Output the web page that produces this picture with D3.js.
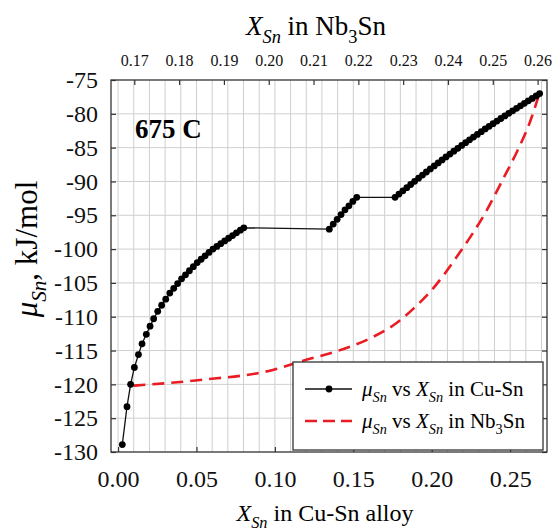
<!DOCTYPE html>
<html>
<head>
<meta charset="utf-8">
<script src="https://cdn.jsdelivr.net/npm/d3@7"></script>
<style>
  body { margin: 0; background: #fff; }
  svg text { font-family: "Liberation Serif", "Times New Roman", serif; }
</style>
</head>
<body>
<div id="wrapper"></div>
<script>
// Cu-Sn alloy: X_Sn (bottom axis) vs mu_Sn
const cuSnX = [0.0027, 0.0057, 0.0080, 0.0104, 0.0130, 0.0153, 0.0180, 0.0204, 0.0227, 0.0253,
    0.0278, 0.0304, 0.0330, 0.0355, 0.0380, 0.0405, 0.0430, 0.0455, 0.0480, 0.0505,
    0.0530, 0.0555, 0.0580, 0.0605, 0.0630, 0.0655, 0.0680, 0.0705, 0.0730, 0.0755,
    0.0780, 0.0802,
    0.1347, 0.1372, 0.1397, 0.1422, 0.1447, 0.1472, 0.1497, 0.1522,
    0.1766, 0.1791, 0.1816, 0.1841, 0.1866, 0.1891, 0.1916, 0.1941, 0.1966, 0.1991,
    0.2016, 0.2041, 0.2066, 0.2091, 0.2116, 0.2141, 0.2166, 0.2191, 0.2216, 0.2241,
    0.2266, 0.2291, 0.2316, 0.2341, 0.2366, 0.2391, 0.2416, 0.2441, 0.2466, 0.2491,
    0.2516, 0.2541, 0.2566, 0.2591, 0.2616, 0.2641, 0.2666, 0.2688];
const cuSnMu = [-128.9, -123.3, -120.0, -117.5, -115.6, -114.0, -112.6, -111.4, -110.3, -109.2,
    -108.3, -107.4, -106.5, -105.8, -105.1, -104.4, -103.8, -103.2, -102.6, -102.0,
    -101.5, -101.0, -100.5, -100.0, -99.6, -99.2, -98.8, -98.4, -98.0, -97.6,
    -97.2, -96.85,
    -97.05, -96.3, -95.6, -94.9, -94.2, -93.6, -92.95, -92.35,
    -92.35, -91.87, -91.39, -90.92, -90.45, -89.98, -89.52, -89.06, -88.60, -88.15,
    -87.70, -87.26, -86.82, -86.38, -85.95, -85.52, -85.10, -84.68, -84.26, -83.85,
    -83.44, -83.04, -82.64, -82.24, -81.85, -81.46, -81.07, -80.69, -80.31, -79.93,
    -79.56, -79.19, -78.82, -78.45, -78.08, -77.72, -77.36, -77.00];

// Nb3Sn: X_Sn (top axis) vs mu_Sn
const nb3SnX = [0.1698, 0.1847, 0.2007, 0.2077, 0.2152, 0.2226, 0.2286, 0.2323, 0.2367,
    0.2420, 0.2487, 0.2524, 0.2554, 0.2583, 0.2604];
const nb3SnMu = [-120.2, -119.35, -117.9, -116.5, -115.1, -113.2, -110.9, -108.8, -105.8,
    -101.1, -94.2, -89.5, -85.6, -81.2, -77.0];

const bottomTicks = [0, 0.05, 0.10, 0.15, 0.20, 0.25];
const topTicks = [0.17, 0.18, 0.19, 0.20, 0.21, 0.22, 0.23, 0.24, 0.25, 0.26];
const leftTicks = [-130, -125, -120, -115, -110, -105, -100, -95, -90, -85, -80, -75];
const gridX = d3.range(0, 28).map(i => i / 100);

const FONT = "Liberation Serif, Times New Roman, serif";

const dimension = {
    width: 556,
    height: 531,
    margin: { top: 80, left: 111, bottom: 79, right: 9 }
};
dimension.boundedWidth = dimension.width - dimension.margin.left - dimension.margin.right;
dimension.boundedHeight = dimension.height - dimension.margin.top - dimension.margin.bottom;

const svg = d3.select("#wrapper").append("svg")
    .attr("width", dimension.width)
    .attr("height", dimension.height)
    .attr("font-family", FONT);

const bounded = svg.append("g")
    .attr("transform", `translate(${dimension.margin.left},${dimension.margin.top})`);

const xScale = d3.scaleLinear().domain([-0.0045, 0.2735]).range([0, dimension.boundedWidth]);
const xTopScale = d3.scaleLinear().domain([0.1648, 0.2621]).range([0, dimension.boundedWidth]);
const yScale = d3.scaleLinear().domain([-130, -75]).range([dimension.boundedHeight, 0]);

// grid
const gridColor = "#cfcfcf";
bounded.append("g").selectAll("line").data(gridX).join("line")
    .attr("x1", d => xScale(d)).attr("x2", d => xScale(d))
    .attr("y1", 0).attr("y2", dimension.boundedHeight)
    .attr("stroke", gridColor).attr("stroke-width", 1);
bounded.append("g").selectAll("line").data(leftTicks.slice(1, -1)).join("line")
    .attr("x1", 0).attr("x2", dimension.boundedWidth)
    .attr("y1", d => yScale(d)).attr("y2", d => yScale(d))
    .attr("stroke", gridColor).attr("stroke-width", 1);

// curves
const cuSnData = cuSnX.map((x, i) => ({ x: x, y: cuSnMu[i] }));
const nb3SnData = nb3SnX.map((x, i) => ({ x: x, y: nb3SnMu[i] }));

const redLine = d3.line()
    .x(d => xTopScale(d.x))
    .y(d => yScale(d.y))
    .curve(d3.curveMonotoneX);
bounded.append("path")
    .attr("d", redLine(nb3SnData))
    .attr("fill", "none")
    .attr("stroke", "#ea1b22")
    .attr("stroke-width", 2.6)
    .attr("stroke-dasharray", "12,7");

const blackLine = d3.line()
    .x(d => xScale(d.x))
    .y(d => yScale(d.y));
bounded.append("path")
    .attr("d", blackLine(cuSnData))
    .attr("fill", "none")
    .attr("stroke", "#111")
    .attr("stroke-width", 1.3);
bounded.append("g").selectAll("circle").data(cuSnData).join("circle")
    .attr("cx", d => xScale(d.x))
    .attr("cy", d => yScale(d.y))
    .attr("r", 3.4)
    .attr("fill", "#000");

// axes
const axisColor = "#333";
const styleAxis = (g, size) => {
    g.attr("font-family", FONT).attr("font-size", size);
    g.select(".domain").remove();
    g.selectAll(".tick line").attr("stroke", axisColor).attr("stroke-width", 1.2);
    g.selectAll(".tick text").attr("fill", "#111");
};

bounded.append("g")
    .call(d3.axisLeft(yScale).tickValues(leftTicks).tickSize(-5).tickPadding(13).tickFormat(d => String(d)))
    .call(styleAxis, 24);

bounded.append("g")
    .attr("transform", `translate(${dimension.boundedWidth},0)`)
    .call(d3.axisRight(yScale).tickValues(leftTicks).tickSize(-5).tickFormat(""))
    .call(styleAxis, 20);

bounded.append("g")
    .attr("transform", `translate(0,${dimension.boundedHeight})`)
    .call(d3.axisBottom(xScale).tickValues(bottomTicks).tickSize(-5).tickPadding(18).tickFormat(d3.format(".2f")))
    .call(styleAxis, 24);

bounded.append("g")
    .call(d3.axisTop(xTopScale).tickValues(topTicks).tickSize(-5).tickPadding(14).tickFormat(d3.format(".2f")))
    .call(styleAxis, 16);

// frame
bounded.append("rect")
    .attr("width", dimension.boundedWidth)
    .attr("height", dimension.boundedHeight)
    .attr("fill", "none")
    .attr("stroke", axisColor)
    .attr("stroke-width", 1.3);

// labels with subscripts
function subLabel(sel, parts, size) {
    parts.forEach(p => {
        const t = sel.append("tspan").text(p.t);
        if (p.i) t.style("font-style", "italic");
        if (p.sub) t.attr("font-size", size * 0.68).attr("dy", size * 0.28);
        if (p.back) t.attr("dy", -size * 0.28);
    });
}

const topTitle = svg.append("text")
    .attr("x", 316).attr("y", 35)
    .attr("text-anchor", "middle")
    .attr("font-size", 27);
subLabel(topTitle, [{ t: "X", i: true }, { t: "Sn", i: true, sub: true },
    { t: " in Nb", back: true }, { t: "3", sub: true }, { t: "Sn", back: true }], 27);

const bottomTitle = svg.append("text")
    .attr("x", 325).attr("y", 521)
    .attr("text-anchor", "middle")
    .attr("font-size", 24);
subLabel(bottomTitle, [{ t: "X", i: true }, { t: "Sn", i: true, sub: true },
    { t: " in Cu-Sn alloy", back: true }], 24);

const yTitle = svg.append("text")
    .attr("transform", "translate(37,249) rotate(-90)")
    .attr("text-anchor", "middle")
    .attr("font-size", 31);
subLabel(yTitle, [{ t: "\u03bc", i: true }, { t: "Sn", i: true, sub: true },
    { t: ", kJ/mol", back: true }], 31);

svg.append("text")
    .attr("x", 135).attr("y", 138)
    .attr("font-size", 27)
    .attr("font-weight", "bold")
    .text("675 C");

// legend
const legend = svg.append("g");
legend.append("rect")
    .attr("x", 293).attr("y", 362)
    .attr("width", 250).attr("height", 88)
    .attr("fill", "#fff")
    .attr("stroke", axisColor)
    .attr("stroke-width", 1.3);
legend.append("line")
    .attr("x1", 305).attr("x2", 352).attr("y1", 389).attr("y2", 389)
    .attr("stroke", "#111").attr("stroke-width", 1.3);
legend.append("circle").attr("cx", 329).attr("cy", 389).attr("r", 3.4).attr("fill", "#000");
legend.append("line")
    .attr("x1", 305).attr("x2", 352).attr("y1", 421).attr("y2", 421)
    .attr("stroke", "#ea1b22").attr("stroke-width", 2.6)
    .attr("stroke-dasharray", "12,6");

const leg1 = legend.append("text").attr("x", 362).attr("y", 396).attr("font-size", 21);
subLabel(leg1, [{ t: "\u03bc", i: true }, { t: "Sn", i: true, sub: true },
    { t: " vs ", back: true }, { t: "X", i: true }, { t: "Sn", i: true, sub: true },
    { t: " in Cu-Sn", back: true }], 21);
const leg2 = legend.append("text").attr("x", 362).attr("y", 428).attr("font-size", 21);
subLabel(leg2, [{ t: "\u03bc", i: true }, { t: "Sn", i: true, sub: true },
    { t: " vs ", back: true }, { t: "X", i: true }, { t: "Sn", i: true, sub: true },
    { t: " in Nb", back: true }, { t: "3", sub: true }, { t: "Sn", back: true }], 21);
</script>
</body>
</html>
